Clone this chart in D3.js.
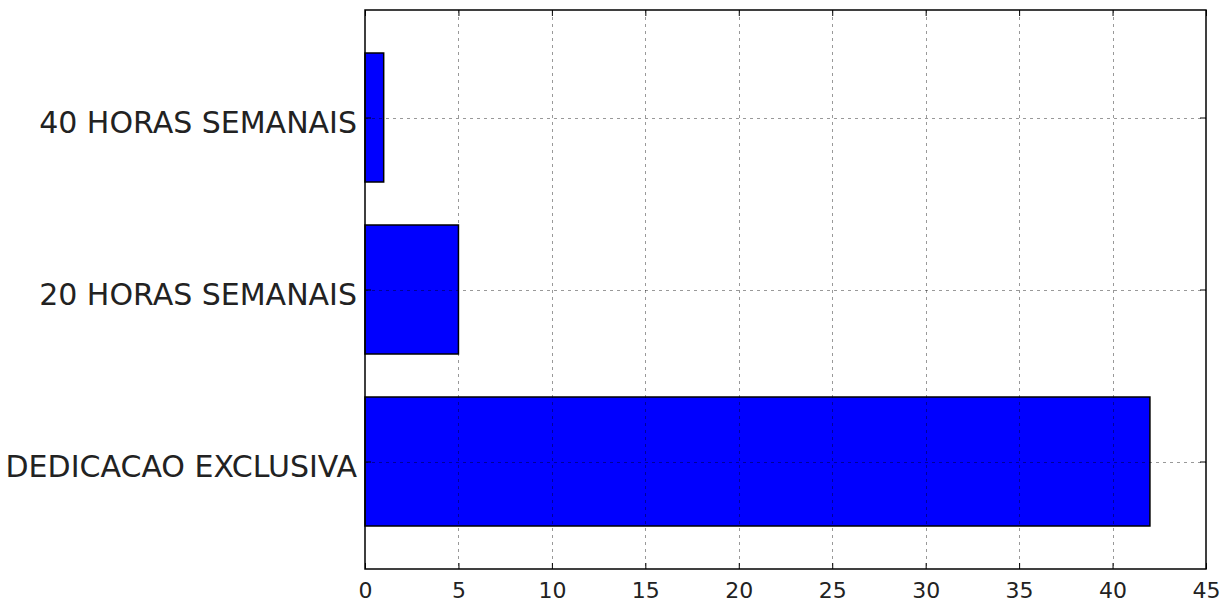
<!DOCTYPE html>
<html>
<head>
<meta charset="utf-8">
<script src="https://cdn.jsdelivr.net/npm/d3@7"></script>
<style>
  html, body { margin: 0; padding: 0; background: #fff; }
  svg { display: block; }
</style>
</head>
<body>
<div id="chart"></div>
<script>
// Workload categories (bottom to top) and number of people in each
const categories = ["DEDICACAO EXCLUSIVA", "20 HORAS SEMANAIS", "40 HORAS SEMANAIS"];
const counts = [42, 5, 1];
const xTicks = [0, 5, 10, 15, 20, 25, 30, 35, 40, 45];

const W = 1229, H = 604;
const plot = { left: 365, right: 1206, top: 10, bottom: 569 };
const barHeight = 0.75;

const svg = d3.select("#chart").append("svg")
  .attr("width", W).attr("height", H);

const x = d3.scaleLinear().domain([0, 45]).range([plot.left, plot.right]);
const y = d3.scaleLinear().domain([-0.25, 3]).range([plot.bottom, plot.top]);

// bars: bottom edge at the category index, 0.75 units tall
svg.append("g").selectAll("rect")
  .data(counts)
  .join("rect")
  .attr("x", x(0))
  .attr("y", (d, i) => y(i + barHeight))
  .attr("width", d => x(d) - x(0))
  .attr("height", (d, i) => y(i) - y(i + barHeight))
  .attr("fill", "#0000ff")
  .attr("stroke", "#000")
  .attr("stroke-width", 1.5);

const yTickVals = categories.map((c, i) => i + barHeight / 2);

// dashed grid, drawn above the bars
const grid = svg.append("g")
  .attr("stroke", "#000")
  .attr("stroke-opacity", 0.4)
  .attr("stroke-width", 1)
  .attr("stroke-dasharray", "3,4");
grid.selectAll("line.v")
  .data(xTicks.slice(1, -1))
  .join("line")
  .attr("class", "v")
  .attr("x1", d => Math.round(x(d)) + 0.5).attr("x2", d => Math.round(x(d)) + 0.5)
  .attr("y1", plot.top).attr("y2", plot.bottom);
grid.selectAll("line.h")
  .data(yTickVals)
  .join("line")
  .attr("class", "h")
  .attr("y1", d => Math.round(y(d)) + 0.5).attr("y2", d => Math.round(y(d)) + 0.5)
  .attr("x1", plot.left).attr("x2", plot.right);

// axes with inward ticks on all four sides
const tickLen = 6;
const bottomAxis = svg.append("g")
  .attr("transform", `translate(0,${plot.bottom})`)
  .call(d3.axisBottom(x).tickValues(xTicks).tickSize(-tickLen).tickPadding(13).tickFormat(d3.format("d")));
const topAxis = svg.append("g")
  .attr("transform", `translate(0,${plot.top})`)
  .call(d3.axisTop(x).tickValues(xTicks).tickSize(-tickLen).tickFormat(""));
const leftAxis = svg.append("g")
  .attr("transform", `translate(${plot.left},0)`)
  .call(d3.axisLeft(y).tickValues(yTickVals).tickSize(-tickLen).tickPadding(8)
    .tickFormat((d, i) => categories[i]));
const rightAxis = svg.append("g")
  .attr("transform", `translate(${plot.right},0)`)
  .call(d3.axisRight(y).tickValues(yTickVals).tickSize(-tickLen).tickFormat(""));

[bottomAxis, topAxis, leftAxis, rightAxis].forEach(g => {
  g.select(".domain").remove();
  g.selectAll(".tick line").attr("stroke", "#000").attr("stroke-width", 1);
});

bottomAxis.selectAll(".tick text")
  .attr("font-family", "DejaVu Sans")
  .attr("font-size", 22)
  .attr("fill", "#222")
  .attr("dy", "0.71em");
leftAxis.selectAll(".tick text")
  .attr("font-family", "DejaVu Sans")
  .attr("font-size", 30)
  .attr("fill", "#222")
  .attr("dy", "0.5em");

// plot frame
svg.append("rect")
  .attr("x", plot.left).attr("y", plot.top)
  .attr("width", plot.right - plot.left).attr("height", plot.bottom - plot.top)
  .attr("fill", "none")
  .attr("stroke", "#000")
  .attr("stroke-width", 1.5);
</script>
</body>
</html>
